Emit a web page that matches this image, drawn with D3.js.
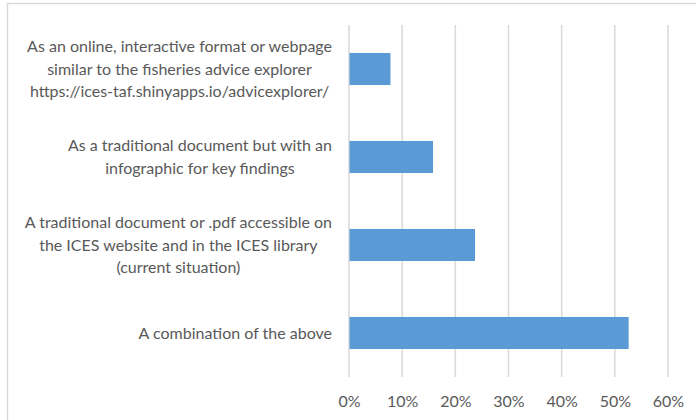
<!DOCTYPE html>
<html>
<head>
<meta charset="utf-8">
<script src="https://cdn.jsdelivr.net/npm/d3@7"></script>
<style>
  html, body { margin: 0; padding: 0; background: #fff; }
  svg { display: block; }
  text { font-family: Lato, "Open Sans", sans-serif; fill: #595959; }
</style>
</head>
<body>
<svg id="chart" width="696" height="420"></svg>
<script>
// Survey responses: preferred format for the advice (share of respondents)
const categories = [
  ["As an online, interactive format or webpage", "similar to the fisheries advice explorer", "https://ices-taf.shinyapps.io/advicexplorer/"],
  ["As a traditional document but with an", "infographic for key findings"],
  ["A traditional document or .pdf accessible on", "the ICES website and in the ICES library", "(current situation)"],
  ["A combination of the above"]
];
const values = [0.078, 0.158, 0.237, 0.526];
const tickValues = [0, 0.1, 0.2, 0.3, 0.4, 0.5, 0.6];

const svg = d3.select("#chart");
const plot = { left: 349, right: 668, top: 25, bottom: 377 };

// Outer chart border (only top and left edges fall inside the frame)
svg.append("rect")
  .attr("x", 7.5).attr("y", 3.5)
  .attr("width", 720).attr("height", 440)
  .attr("fill", "none").attr("stroke", "#d9d9d9").attr("stroke-width", 1.5);

const x = d3.scaleLinear().domain([0, 0.6]).range([plot.left, plot.right]);
const y = d3.scaleBand()
  .domain(d3.range(categories.length))
  .range([plot.top, plot.bottom])
  .paddingInner(0.636)
  .paddingOuter(0.318);

// Vertical gridlines
svg.append("g")
  .selectAll("line")
  .data(tickValues)
  .join("line")
  .attr("x1", d => x(d)).attr("x2", d => x(d))
  .attr("y1", plot.top).attr("y2", plot.bottom)
  .attr("stroke", "#d9d9d9").attr("stroke-width", 1.5);

// Bars
svg.append("g")
  .selectAll("rect")
  .data(values)
  .join("rect")
  .attr("x", x(0) + 0.5)
  .attr("y", (d, i) => y(i))
  .attr("width", d => x(d) - x(0) - 0.5)
  .attr("height", y.bandwidth())
  .attr("fill", "#5b9bd5");

// X axis tick labels
const xAxis = d3.axisBottom(x)
  .tickValues(tickValues)
  .tickFormat(d3.format(".0%"))
  .tickSize(0)
  .tickPadding(0);
const gx = svg.append("g")
  .attr("transform", `translate(0,${plot.bottom})`)
  .call(xAxis);
gx.select(".domain").remove();
gx.selectAll("text")
  .attr("y", 30)
  .attr("dy", null)
  .style("font-size", "16px")
  .style("font-family", "Lato, 'Open Sans', sans-serif")
  .attr("fill", "#595959");

// Category labels: centred lines, block right-aligned against the plot
const labelRight = 332;
const lineH = 22.5;
categories.forEach((lines, i) => {
  const cy = y(i) + y.bandwidth() / 2;
  const g = svg.append("g");
  const texts = g.selectAll("text")
    .data(lines)
    .join("text")
    .attr("y", (d, j) => cy + (j - (lines.length - 1) / 2) * lineH)
    .attr("dy", "0.35em")
    .attr("text-anchor", "middle")
    .style("font-size", "16px")
    .text(d => d);
  let maxW = 0;
  texts.each(function () { maxW = Math.max(maxW, this.getComputedTextLength()); });
  texts.attr("x", labelRight - maxW / 2);
});
</script>
</body>
</html>
